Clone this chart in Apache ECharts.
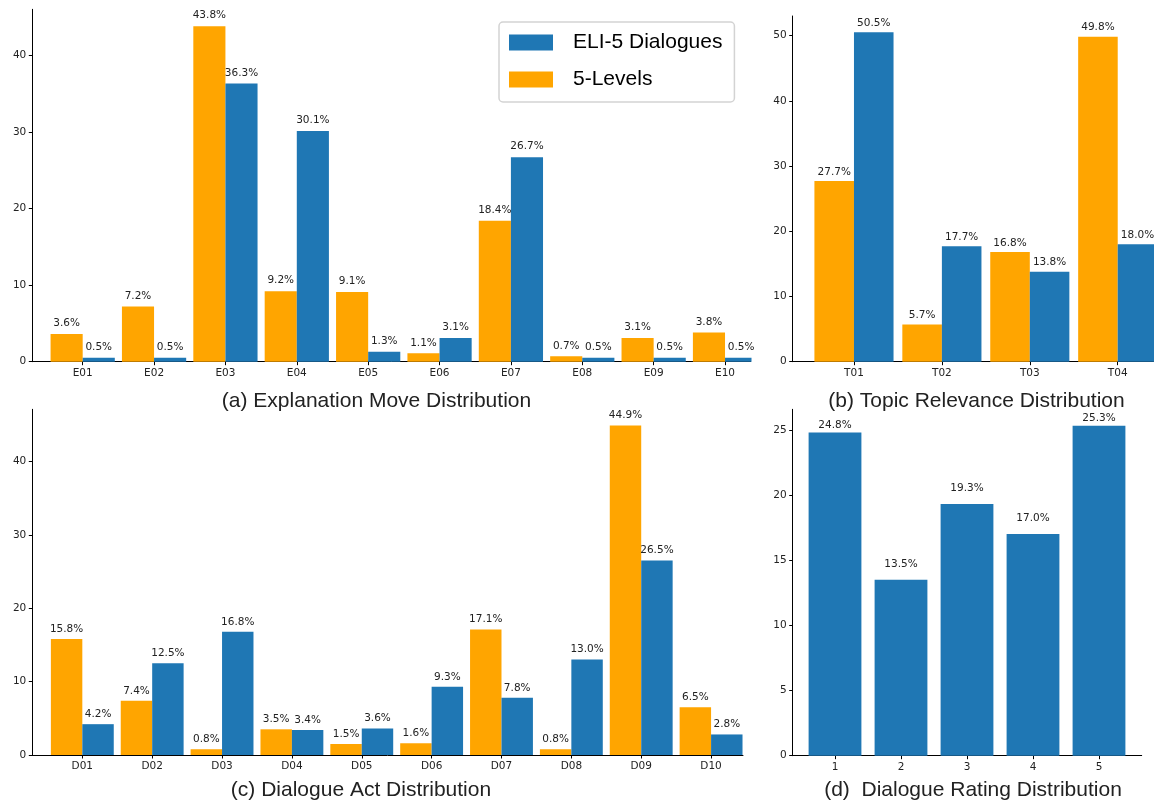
<!DOCTYPE html>
<html>
<head>
<meta charset="utf-8">
<script src="https://cdn.jsdelivr.net/npm/echarts@6/dist/echarts.min.js"></script>
<style>
html,body{margin:0;padding:0;background:#fff;}
#chart{width:1157px;height:803px;}
</style>
</head>
<body>
<div id="chart"></div>
<script>
// ---------- data ----------
const moveCats = ['E01','E02','E03','E04','E05','E06','E07','E08','E09','E10'];
const moveFiveLevels = [3.6, 7.2, 43.8, 9.2, 9.1, 1.1, 18.4, 0.7, 3.1, 3.8];
const moveEli5 = [0.5, 0.5, 36.3, 30.1, 1.3, 3.1, 26.7, 0.5, 0.5, 0.5];

const topicCats = ['T01','T02','T03','T04'];
const topicFiveLevels = [27.7, 5.7, 16.8, 49.8];
const topicEli5 = [50.5, 17.7, 13.8, 18.0];

const actCats = ['D01','D02','D03','D04','D05','D06','D07','D08','D09','D10'];
const actFiveLevels = [15.8, 7.4, 0.8, 3.5, 1.5, 1.6, 17.1, 0.8, 44.9, 6.5];
const actEli5 = [4.2, 12.5, 16.8, 3.4, 3.6, 9.3, 7.8, 13.0, 26.5, 2.8];

const ratingCats = ['1','2','3','4','5'];
const ratingEli5 = [24.8, 13.5, 19.3, 17.0, 25.3];

const moveYTicks = [0, 10, 20, 30, 40];
const topicYTicks = [0, 10, 20, 30, 40, 50];
const actYTicks = [0, 10, 20, 30, 40];
const ratingYTicks = [0, 5, 10, 15, 20, 25];

const seriesNames = ['ELI-5 Dialogues', '5-Levels'];
const panelTitles = ['(a) Explanation Move Distribution', '(b) Topic Relevance Distribution',
                     '(c) Dialogue Act Distribution', '(d)  Dialogue Rating Distribution'];

// ---------- layout / style ----------
const BLUE = '#1f77b4', ORANGE = '#ffa500';
const tickFont = 'DejaVu Sans';
const panels = [
  {l: 32.3, t: 9.3, r: 751, b: 361.7, xMin: -0.706, xMax: 9.364, yMax: 46.0, cats: moveCats, yTicks: moveYTicks, dist: 5},
  {l: 792.7, t: 16, r: 1153.5, b: 361.7, xMin: -0.697, xMax: 3.407, yMax: 53.0, cats: topicCats, yTicks: topicYTicks, dist: 3.7},
  {l: 32.3, t: 409.3, r: 743, b: 755, xMin: -0.716, xMax: 9.457, yMax: 47.1, cats: actCats, yTicks: actYTicks, dist: 4.4},
  {l: 792.7, t: 409.3, r: 1141.7, b: 755.7, xMin: -0.641, xMax: 4.647, yMax: 26.57, cats: ratingCats, yTicks: ratingYTicks, dist: 10}
];
const titlePos = [[376.5, 401], [976.5, 401], [361, 790.5], [973, 790.5]];

const grids = [], xAxes = [], yAxes = [];
panels.forEach((p, i) => {
  grids.push({left: p.l, top: p.t, width: p.r - p.l, height: p.b - p.t, containLabel: false});
  const idx = p.cats.map((_, k) => k);
  xAxes.push({
    type: 'value', gridIndex: i, min: p.xMin, max: p.xMax,
    axisLine: {show: true, onZero: false, lineStyle: {color: '#000', width: 1}},
    axisTick: {show: true, customValues: idx, length: 3.5, lineStyle: {color: '#000', width: 1}},
    axisLabel: {show: true, customValues: idx, margin: 6, formatter: v => p.cats[Math.round(v)],
                fontFamily: tickFont, fontSize: 10.5, color: '#222'},
    splitLine: {show: false}
  });
  yAxes.push({
    type: 'value', gridIndex: i, min: 0, max: p.yMax,
    axisLine: {show: true, onZero: false, lineStyle: {color: '#000', width: 1}},
    axisTick: {show: true, customValues: p.yTicks, length: 3.5, lineStyle: {color: '#000', width: 1}},
    axisLabel: {show: true, customValues: p.yTicks, margin: 6, fontFamily: tickFont, fontSize: 10.5, color: '#222'},
    splitLine: {show: false}
  });
});

function makeLabel(dist) {
  return {show: true, position: 'top', distance: dist, fontFamily: tickFont, fontSize: 10.5, color: '#222',
          formatter: prm => prm.value[1].toFixed(1) + '%'};
}
function barSeries(name, values, color, gi, width, dist, nearIdx) {
  return {
    type: 'bar', name: name, xAxisIndex: gi, yAxisIndex: gi,
    data: values.map((v, k) => {
      const item = {value: [k, v]};
      if (nearIdx && nearIdx.indexOf(k) >= 0) item.label = {distance: 1.7};
      return item;
    }),
    barWidth: width, barGap: '0%', clip: true,
    itemStyle: {color: color},
    label: makeLabel(dist),
    emphasis: {disabled: true}
  };
}

const series = [
  barSeries(seriesNames[1], moveFiveLevels, ORANGE, 0, '45%', panels[0].dist),
  barSeries(seriesNames[0], moveEli5, BLUE, 0, '45%', panels[0].dist),
  barSeries(seriesNames[1], topicFiveLevels, ORANGE, 1, '45%', panels[1].dist),
  barSeries(seriesNames[0], topicEli5, BLUE, 1, '45%', panels[1].dist),
  barSeries(seriesNames[1], actFiveLevels, ORANGE, 2, '45%', panels[2].dist),
  barSeries(seriesNames[0], actEli5, BLUE, 2, '45%', panels[2].dist),
  barSeries('Rating', ratingEli5, BLUE, 3, '80%', panels[3].dist, [0, 4])
];

const graphics = panelTitles.map((t, i) => ({
  type: 'text', x: titlePos[i][0], y: titlePos[i][1], z: 10,
  style: {text: t, fontFamily: 'Liberation Sans', fontSize: 21, fill: '#222',
          align: 'center', verticalAlign: 'middle'}
}));
// white masks reproducing the cropped right edges of panels (a) and (b)
graphics.push({type: 'rect', z: 5, shape: {x: 751.5, y: 354.5, width: 8, height: 10}, style: {fill: '#fff'}});
graphics.push({type: 'rect', z: 5, shape: {x: 1154, y: 0, width: 10, height: 370}, style: {fill: '#fff'}});

const option = {
  animation: false,
  backgroundColor: '#fff',
  grid: grids, xAxis: xAxes, yAxis: yAxes, series: series,
  graphic: graphics,
  legend: {
    data: seriesNames, orient: 'vertical', left: 499, top: 22,
    padding: [10, 12, 12, 10], itemWidth: 44, itemHeight: 16, itemGap: 16,
    icon: 'rect', selectedMode: false,
    borderColor: '#d3d3d3', borderWidth: 1.5, borderRadius: 4, backgroundColor: '#fff',
    textStyle: {fontFamily: 'Liberation Sans', fontSize: 21, color: '#000', lineHeight: 16, padding: [0, 0, 0, 15]}
  }
};

const chart = echarts.init(document.getElementById('chart'), null, {renderer: 'canvas'});
chart.setOption(option);
</script>
</body>
</html>
